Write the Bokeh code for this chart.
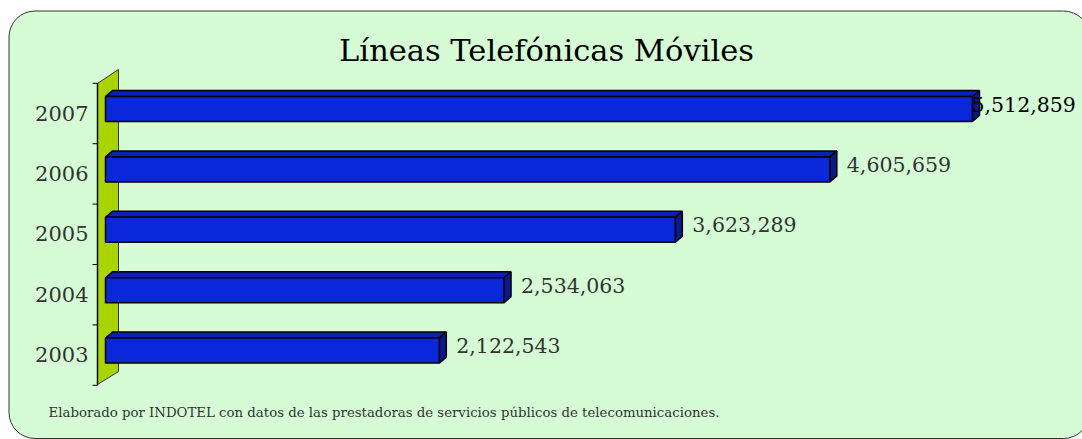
from bokeh.plotting import figure
from bokeh.models import Range1d, ColumnDataSource
from bokeh.core.properties import value
from bokeh.embed import file_html
from bokeh.resources import INLINE

# ---- data ----
years = [2003, 2004, 2005, 2006, 2007]
lines = [2122543, 2534063, 3623289, 4605659, 5512859]
labels = ["2,122,543", "2,534,063", "3,623,289", "4,605,659", "5,512,859"]
title_text = "Líneas Telefónicas Móviles"
footer_text = "Elaborado por INDOTEL con datos de las prestadoras de servicios públicos de telecomunicaciones."

# ---- layout geometry (page pixels -> data) ----
W, H = 1082, 439
OFF = 0                # page offset of the figure
PX0 = 105.0            # page x of value 0
S = 867.0 / 5512859    # px per unit
ROW = 60.4             # px per year
PY7 = 108.5            # page y of 2007 bar center

def X(px):
    return (px - PX0) / S

def Y(py):
    return 2007 - (py - PY7) / ROW

p = figure(width=W, height=H, output_backend="svg", toolbar_location=None,
           x_range=Range1d(X(OFF), X(OFF + W)), y_range=Range1d(Y(OFF + H), Y(OFF)),
           x_axis_location=None, y_axis_location=None, min_border=0)
p.grid.visible = False
p.outline_line_color = None
p.background_fill_color = "white"
p.border_fill_color = "white"

# rounded panel (extends past the right edge as in the reference)
p.quad(left=[X(8.5)], right=[X(1089)], top=[Y(10.5)], bottom=[Y(438)],
       fill_color="#d5fcd5", line_color="#333333", line_width=1, border_radius=26)

# wall
p.patch(x=[X(97), X(118), X(118), X(97)], y=[Y(83), Y(69), Y(371), Y(384)],
        fill_color="#aad400", line_color="#333333", line_width=1)

# axis line and ticks
tick_y = [y + 0.5 - 4.5 / ROW for y in years] + [years[0] - 0.5 - 4.5 / ROW]
p.segment(x0=[X(97)], y0=[max(tick_y)], x1=[X(97)], y1=[min(tick_y)],
          line_color="black", line_width=1.5)
p.segment(x0=[X(92)] * len(tick_y), y0=tick_y, x1=[X(97)] * len(tick_y), y1=tick_y,
          line_color="black", line_width=1)

# bars
hh = 25.0 / ROW / 2
dx = 7.0 / S
dy = 6.0 / ROW
src = ColumnDataSource(dict(y=years, right=lines))
top_xs, top_ys, side_xs, side_ys = [], [], [], []
for yv, v in zip(years, lines):
    t, b = yv + hh, yv - hh
    top_xs.append([0, v, v + dx, dx])
    top_ys.append([t, t, t + dy, t + dy])
    side_xs.append([v, v, v + dx, v + dx])
    side_ys.append([b, t, t + dy, b + dy])
p.patches(xs=top_xs, ys=top_ys, fill_color="#0a20b8", line_color="black", line_width=1.5)
p.patches(xs=side_xs, ys=side_ys, fill_color="#0a1a8c", line_color="black", line_width=1.5)
p.hbar(y="y", left=0, right="right", height=2 * hh, source=src,
       fill_color="#0b27da", line_color="black", line_width=1.5)

# year labels
p.text(x=[X(88)] * len(years), y=[y - 4.0 / ROW for y in years], text=[str(y) for y in years],
       text_font=value("DejaVu Serif"), text_font_size="21px", text_color="#333333",
       text_align="right", text_baseline="middle")

# value labels
lab_w = 104.0 / S
lab_x = [min(v + 17.0 / S, X(1075) - lab_w) for v in lines]
lab_col = ["#333333"] * (len(lines) - 1) + ["black"]
p.text(x=lab_x, y=[y + 5.0 / ROW for y in years], text=labels,
       text_font=value("DejaVu Serif"), text_font_size="20.5px", text_color=lab_col,
       text_align="left", text_baseline="middle")

# title and footer
p.text(x=[X(546)], y=[Y(50)], text=[title_text], text_font=value("DejaVu Serif"),
       text_font_size="30.5px", text_color="black", text_align="center", text_baseline="middle")
p.text(x=[X(48)], y=[Y(412)], text=[footer_text], text_font=value("DejaVu Serif"),
       text_font_size="13.3px", text_color="#333333", text_align="left", text_baseline="middle")

open("out.html", "w").write(file_html(p, INLINE))
